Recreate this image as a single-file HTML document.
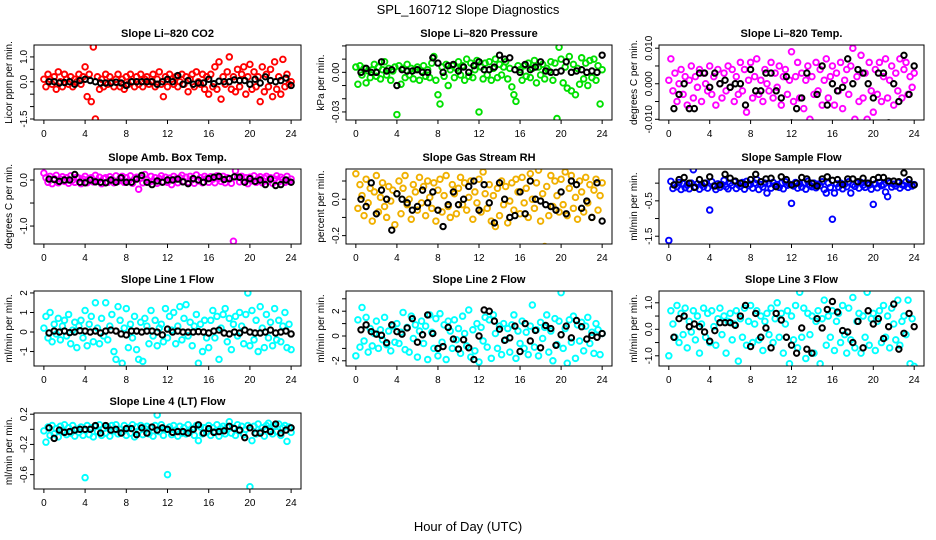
<!DOCTYPE html>
<html><head><meta charset="utf-8"><style>
html,body{margin:0;padding:0;background:#fff}
svg{display:block;font-family:"Liberation Sans",sans-serif}
</style></head><body>
<svg id="chart" width="936" height="540" viewBox="0 0 936 540">
<text x="468" y="14" text-anchor="middle" font-size="13">SPL_160712  Slope Diagnostics</text>
<text x="468" y="531" text-anchor="middle" font-size="13">Hour of Day (UTC)</text>
</svg>
<script>
const xTicks=[0,4,8,12,16,20,24];
const blackHours=[];for(let k=1;k<=48;k++)blackHours.push(k*0.5);
const colHours=[];for(let i=0;i<=120;i++)colHours.push(i*0.2);

const co2Vals=[.1,-.2,.3,.1,-.1,.2,-.3,.4,.0,-.2,.3,.1,-.1,.2,-.2,.1,.0,.3,-.1,.2,
.6,-.6,.3,-.8,1.4,-1.5,.2,-.3,.1,-.2,.3,-.1,.2,.0,-.2,.1,.3,-.2,.1,-.3,
.2,-.1,.3,.0,-.2,.2,-.1,.3,-.2,.1,.2,-.1,.0,.3,-.2,.1,.4,-.1,-.6,.2,
-.2,.3,.1,-.1,.2,-.2,.0,.3,-.1,.2,-.4,.1,.3,-.2,.4,.0,-.1,.3,-.3,.2,
-.5,.3,-.2,.6,-.3,.8,-.7,.2,-.1,.4,1.0,-.3,.2,-.4,.5,-.2,.3,.6,-.5,.2,
.7,-.3,.4,-.2,.2,-.8,.6,-.4,.3,-.2,.5,-.6,.8,-.3,.2,-.5,.9,-.2,.3,-.1,.0];
const co2Black=[.0,.0,-.05,-.03,.0,-.1,.05,.1,.05,.0,-.05,-.05,-.05,-.02,-.05,-.15,.0,.0,.0,.0,.0,-.1,.0,.1,.0,.25,-.1,.05,-.1,-.05,-.05,.1,-.08,.02,.0,.0,.08,.05,.05,-.1,.1,-.05,.2,.05,.0,.05,.15,-.15];

const presVals=[.004,-.009,.005,-.002,.003,-.008,.001,-.004,.002,.006,-.003,.004,-.005,.002,.008,-.002,.003,-.006,.001,.004,
-.032,.005,-.009,.003,-.004,.006,-.002,.003,-.005,.002,.004,-.006,.001,.005,-.003,.002,-.004,.007,.012,-.006,
-.017,-.024,.004,-.003,.006,-.010,.002,.005,-.004,.003,.008,-.002,.005,-.006,.010,-.003,.007,-.004,.002,.009,
-.030,.004,-.005,.007,-.002,.008,-.006,.003,.010,-.004,.006,-.002,.004,.008,-.005,.003,-.011,-.017,-.022,.005,
.002,-.006,.005,-.003,.007,-.004,.003,.009,-.008,.004,-.002,.006,-.005,.003,.001,.008,-.006,.007,-.035,.019,
.010,-.008,.004,-.012,.012,-.014,.006,-.017,.003,-.009,.011,-.005,.007,-.010,.009,-.004,.010,-.006,.005,-.024,.002];
const presBlack=[.0,.003,.0,.0,.008,.001,.002,-.010,.002,.001,.001,.002,.0,.0,.011,.007,.0,.005,.006,.001,.004,.0,.005,.008,.002,.002,.004,.013,.010,.011,.002,.0,.006,.002,.004,.008,.001,.0,.0,.001,.008,.0,.001,.002,.0,.001,.0,.013];

const tempVals=[.001,.007,-.002,.003,-.005,.000,.004,-.003,.002,-.006,.001,.005,-.004,.002,-.001,.004,-.005,.003,.000,-.002,
.005,-.003,.002,-.006,.004,.000,-.004,.003,-.002,.005,-.001,.004,-.005,.002,-.003,.006,-.002,.004,-.008,.001,
.006,-.004,.002,.007,-.003,.001,-.005,.004,.000,-.002,.006,-.004,.003,-.001,.005,-.006,.002,.004,-.003,.001,
.009,-.005,.002,.006,-.004,.003,-.007,.001,.005,-.010,.002,-.003,.006,-.002,.004,-.006,.001,.007,-.004,.002,
.005,-.006,.003,-.002,.006,-.007,.001,.004,-.003,.005,.010,-.010,.002,-.005,.008,-.004,.003,-.010,.006,-.002,
-.008,.004,-.003,.006,-.005,.002,.007,-.004,.001,.005,-.006,.003,-.002,.007,-.004,.004,.006,-.003,.002,-.001,.003];
const tempBlack=[-.007,-.003,.000,-.007,-.007,.003,.003,-.001,.003,.000,.001,-.001,.000,.000,-.006,.004,-.002,-.002,.003,.003,-.002,-.004,.002,-.011,-.007,-.004,.003,-.013,-.003,.005,-.006,.000,-.002,-.001,.007,.000,.004,.003,.000,-.004,.003,.003,-.011,.000,-.005,.008,-.003,.005];

const ambVals=[.15,.05,-.05,.08,-.08,.03,.10,-.06,.02,.07,-.03,.05,-.07,.09,.00,-.05,.06,.04,-.08,.02,
.08,-.06,.03,.05,-.04,.10,-.02,.06,-.08,.03,.05,-.05,.07,.01,-.06,.09,-.03,.04,.08,-.05,
.05,-.03,.09,-.07,.02,.06,-.20,.04,-.06,.12,.01,-.05,.08,-.02,.05,-.07,.03,.09,-.04,.06,
-.05,.04,-.10,.08,.02,-.06,.05,.10,-.03,.06,-.05,.08,.01,-.07,.11,-.02,.05,-.06,.08,.03,
-.05,.07,.02,-.06,.09,.04,-.03,.08,-.06,.05,.02,-.07,-1.33,.20,.06,-.04,.08,-.03,.05,-.08,
.06,-.02,.09,-.05,.03,.07,-.06,.04,.08,-.03,.05,-.07,.02,.09,-.04,.06,.01,-.05,.08,-.03,.02];
const ambBlack=[.02,.01,-.03,.0,.0,.12,-.05,-.06,.0,-.04,-.05,-.06,.0,-.05,.05,-.05,-.05,.02,.1,-.05,-.1,-.02,-.05,.0,.0,.02,-.04,-.08,.03,.0,-.05,.03,.06,.08,.01,.03,.07,.06,-.05,.03,-.03,.0,-.1,.02,-.12,-.1,.0,-.05];

const rhVals=[.14,-.05,.08,.02,-.09,.11,-.02,.06,-.12,.04,.13,-.07,.01,.09,-.04,-.10,.07,-.01,.05,-.14,
.03,.10,-.08,.06,.13,-.03,.00,-.11,.08,.04,-.06,.12,-.02,.07,-.09,.10,.01,-.05,.09,-.12,
.05,.11,-.07,.02,.13,-.04,-.10,.08,.03,-.08,.06,.12,-.03,.09,-.06,.01,.10,-.11,.04,-.02,
.11,-.07,.15,.03,-.05,.08,-.12,.02,-.15,.06,-.09,.10,-.03,.07,-.13,-.01,.09,-.06,.11,.04,
-.08,.12,-.02,.06,-.10,.14,.00,-.05,.09,.16,-.12,.03,-.26,.07,-.09,.13,-.04,.10,.02,-.07,
.11,-.03,.15,-.09,.06,.13,-.05,.01,-.11,.10,.04,-.07,.12,-.02,.08,-.10,.05,.11,-.06,.02,.09];
const rhBlack=[.0,-.04,.09,-.08,.05,.0,-.17,.03,.0,-.02,-.06,-.04,.05,-.02,.04,-.06,-.15,-.03,.04,-.03,.0,.07,.1,-.06,.08,-.02,-.13,.09,.0,-.1,-.09,.04,-.08,.1,.0,-.01,-.03,-.04,-.06,.04,-.08,.1,.08,-.05,-.01,-.1,.09,-.12];

const sampVals=[-1.62,.05,-.15,-.04,-.10,.02,-.18,-.02,-.13,-.05,-.16,.00,.38,-.11,-.02,-.17,-.04,-.10,.00,-.14,
-.76,.04,-.08,-.18,-.02,-.12,-.04,.08,-.10,-.16,.00,-.06,.04,-.15,-.04,-.09,.02,-.17,.05,-.07,
-.03,-.14,.00,.10,-.18,-.04,-.11,.00,-.28,-.02,-.14,.02,-.07,-.04,-.12,.00,-.16,.04,-.06,-.03,
-.57,-.08,.02,-.14,-.02,-.11,.00,-.17,.05,-.06,-.10,.00,-.13,-.03,-.07,.04,-.18,-.28,.00,-.12,
-1.02,-.28,-.02,-.11,.00,-.16,-.03,-.10,.04,-.28,-.04,-.09,.00,-.14,.02,-.06,-.12,.00,-.05,-.17,
-.60,-.02,-.13,.02,-.07,-.04,-.25,-.38,.00,-.11,-.03,-.08,.02,-.14,-.04,-.07,.04,-.12,-.02,-.08,-.04];
const sampBlack=[-.05,.10,.16,.0,-.12,.10,.0,.18,-.08,-.05,.25,.14,.06,.0,-.04,.10,.25,.04,.12,.14,-.10,.18,.10,-.05,.0,.16,.12,.0,-.08,.12,.18,.08,.10,-.04,.12,.12,.04,.14,.0,.10,.16,.16,.06,.06,.04,.29,.10,-.05];

const l1Vals=[.2,.8,-.3,1.0,-.5,.4,-.1,.7,-.4,.3,.6,-.2,.9,-.6,.1,.5,-.8,.3,.6,-.3,
1.1,-.7,.4,.8,-.5,1.5,.2,-.6,.7,-.2,1.5,-.4,.3,.9,-1.0,-1.4,1.3,.6,-1.6,.2,
1.2,-.8,.4,-.3,.8,-.9,-1.4,.5,-1.5,.7,.3,-.6,1.1,-.2,.6,-.7,.2,.4,-.5,1.2,
-.3,.8,.1,1.0,-.6,.3,1.3,-.4,.7,1.4,-.2,.5,-.7,.3,.9,-1.6,.4,-1.0,.6,-.3,
-.8,.6,1.1,-.3,.8,-1.4,.2,.9,1.2,-.5,.7,-.9,.4,.8,-.2,1.0,.3,-.6,.9,2.0,
-.7,1.1,-.4,.6,-1.0,1.3,.2,-.8,.9,-.3,.5,-.7,1.2,-.4,.6,-.5,.3,1.0,-.8,.4,-.9];
const l1Black=[-.05,.05,.0,.05,-.03,.0,.07,.05,.0,.05,-.05,.05,.1,.05,-.1,-.15,.05,.05,.0,.05,.05,.0,-.15,.15,.0,.05,.0,.0,.0,.02,.0,-.05,.05,.1,-.05,-.1,.0,-.05,.1,.0,-.05,-.05,.0,.1,-.05,.0,.05,-.1];

const l2Vals=[-1.6,1.3,-.9,2.3,-.4,1.5,-1.3,.6,-.8,.2,1.2,-1.0,.5,-.3,1.5,-.7,.4,-1.2,.8,-.5,
1.0,-.6,.3,1.9,-1.1,.7,-1.3,1.6,-.2,.9,-1.7,.4,1.2,-.6,.8,-1.9,1.7,.3,-1.0,1.4,
-1.6,1.8,-.5,.9,-1.9,1.2,.4,-1.0,1.3,-.3,.6,-1.4,1.6,.2,-.8,2.1,-1.7,.5,-1.2,1.0,
-2.1,.7,-.4,1.5,-.9,1.3,-1.8,1.7,.2,-1.0,.8,-1.5,1.0,-.3,.6,-1.3,.9,1.7,-1.8,.4,
-.6,1.2,-1.0,.3,-1.5,.8,2.5,-.9,.5,-1.6,1.1,-.2,.7,1.7,-1.3,.4,-2.0,1.4,-.7,1.2,
3.5,-1.0,.6,-2.2,1.3,-.5,1.6,-1.8,.9,-.4,1.1,-1.2,.8,1.5,-.6,.3,-1.4,1.0,.5,-1.5,.2];
const l2Black=[.5,.9,.35,.15,.05,-.55,.9,.35,.15,.65,1.4,-.5,.1,1.7,.2,-1.0,-.85,.7,-.25,-1.05,-.3,-.95,-1.9,.0,2.1,2.0,1.2,.55,-.35,-.15,.8,-1.25,1.0,-.4,.45,-.95,.85,.6,-.75,.1,.8,-.15,1.25,.75,-.25,.05,-.1,.2];

const l3Vals=[-1.0,.7,.2,-.3,.9,-.5,.6,-.2,.8,-.7,.3,-.1,.7,-.4,.5,-.9,.2,.8,-.3,.6,
-.5,.7,.1,-.6,.4,.8,-.2,.5,-.9,.3,.6,-.4,.2,.7,-1.2,.4,-.3,.8,-.6,.3,
.9,-.5,.2,.7,-.4,.5,-.8,.3,.6,-.2,.8,-.5,.4,1.0,-.3,.6,-.9,.2,.7,-1.3,
.5,-.4,.9,-.7,1.4,-.3,.8,-1.1,.6,-.2,.5,-.9,.3,.7,-1.3,.4,1.1,-.6,.5,-.3,
.7,-.8,.3,.6,-.5,.9,-.2,-.9,.8,-.4,1.2,-.7,.3,.6,-.9,.5,-.3,1.4,-.6,.4,
.6,-.8,.3,.7,-.5,.9,-.3,.5,-.7,.8,.2,-.4,1.1,-.6,.3,.5,-.2,1.1,-1.3,.4,-1.4];
const l3Black=[-.3,.4,.5,.1,.2,.1,-.1,-.45,-.05,.25,.25,.25,.15,.5,.9,-.65,.6,-.3,.05,-.7,.6,.35,-.3,-.6,-.9,.05,-.75,-.9,.4,.05,.75,1.05,.65,-.05,-.1,-.5,.3,-.7,.7,.2,.4,-.35,.1,.95,-.75,-.15,.6,.1];

const l4Vals=[-.02,-.17,.03,-.08,.05,-.06,.01,-.10,.04,-.03,.06,-.07,.02,-.05,.05,-.09,.00,-.04,.03,-.08,
-.64,.05,-.07,.02,-.10,.04,-.03,.06,-.08,.01,-.05,.03,-.09,.05,-.02,.06,-.06,.00,-.04,.05,
-.08,.02,-.05,.06,-.10,.03,-.02,.05,-.07,.01,.04,-.06,.02,-.09,.05,.19,-.03,.06,-.08,.00,
-.60,.03,-.07,.05,-.01,-.09,.04,-.05,.02,-.06,.06,-.03,.01,-.08,.05,-.15,.03,-.06,.02,-.04,
.05,-.08,.02,-.03,.06,-.09,.01,.04,-.06,.03,.10,-.05,.02,-.08,.06,-.02,.04,-.07,.00,.05,
-.76,-.15,.04,-.06,.07,-.03,.02,-.09,.05,.08,-.01,-.06,.04,-.03,.07,-.08,.02,.05,-.16,.03,-.04];
const l4Black=[.02,-.12,-.01,-.04,-.03,-.01,.0,.0,.0,.05,-.05,.05,-.01,.0,-.05,.01,.01,-.07,.02,-.05,.03,-.01,.02,.0,-.04,-.03,-.03,-.05,.0,.06,-.05,.01,-.04,-.03,-.02,.04,.01,-.01,-.11,.02,-.05,-.05,.0,-.03,.07,-.05,-.01,.02];

const panels=[
 {name:'co2',title:'Slope Li\u2013820 CO2',ylab:'Licor ppm per min.',col:0,row:0,ylim:[-1.54,1.48],ticks:[1,.5,0,-.5,-1,-1.5],labels:[[1,'1.0'],[0,'0.0'],[-1.5,'-1.5']],color:'#ff0000',vals:co2Vals,black:co2Black},
 {name:'pressure',title:'Slope Li\u2013820 Pressure',ylab:'kPa per min.',col:1,row:0,ylim:[-0.0361,0.0207],ticks:[.02,.01,0,-.01,-.02,-.03],labels:[[0,'0.00'],[-.03,'-0.03']],color:'#00e000',vals:presVals,black:presBlack},
 {name:'temp',title:'Slope Li\u2013820 Temp.',ylab:'degrees C per min.',col:2,row:0,ylim:[-0.0102,0.0109],ticks:[.01,.005,0,-.005,-.01],labels:[[.01,'0.010'],[0,'0.000'],[-.01,'-0.010']],color:'#ff00ff',vals:tempVals,black:tempBlack},
 {name:'amb-temp',title:'Slope Amb. Box Temp.',ylab:'degrees C per min.',col:0,row:1,ylim:[-1.39,0.239],ticks:[0,-.5,-1],labels:[[0,'0.0'],[-1,'-1.0']],color:'#ff00ff',vals:ambVals,black:ambBlack},
 {name:'rh',title:'Slope Gas Stream RH',ylab:'percent per min.',col:1,row:1,ylim:[-0.246,0.166],ticks:[.1,0,-.1,-.2],labels:[[0,'0.0'],[-.2,'-0.2']],color:'#f0b000',vals:rhVals,black:rhBlack},
 {name:'sample-flow',title:'Slope Sample Flow',ylab:'ml/min per min.',col:2,row:1,ylim:[-1.72,0.40],ticks:[0,-.5,-1,-1.5],labels:[[-.5,'-0.5'],[-1.5,'-1.5']],color:'#0000ff',vals:sampVals,black:sampBlack},
 {name:'line1',title:'Slope Line 1 Flow',ylab:'ml/min per min.',col:0,row:2,ylim:[-1.74,2.10],ticks:[2,1,0,-1],labels:[[2,'2'],[1,'1'],[0,'0'],[-1,'-1']],color:'#00ffff',vals:l1Vals,black:l1Black},
 {name:'line2',title:'Slope Line 2 Flow',ylab:'ml/min per min.',col:1,row:2,ylim:[-2.42,3.63],ticks:[3,2,1,0,-1,-2],labels:[[2,'2'],[0,'0'],[-2,'-2']],color:'#00ffff',vals:l2Vals,black:l2Black},
 {name:'line3',title:'Slope Line 3 Flow',ylab:'ml/min per min.',col:2,row:2,ylim:[-1.385,1.445],ticks:[1,.5,0,-.5,-1],labels:[[1,'1.0'],[0,'0.0'],[-1,'-1.0']],color:'#00ffff',vals:l3Vals,black:l3Black},
 {name:'line4',title:'Slope Line 4 (LT) Flow',ylab:'ml/min per min.',col:0,row:3,ylim:[-0.79,0.216],ticks:[.2,0,-.2,-.4,-.6],labels:[[.2,'0.2'],[-.2,'-0.2'],[-.6,'-0.6']],color:'#00ffff',vals:l4Vals,black:l4Black}
];
const colX=[[34,301],[346,612],[659,924]];
const rowY=[[45,120],[169,244],[291,366],[413,489]];
const NS='http://www.w3.org/2000/svg';
const svg=document.getElementById('chart');
function mk(tag,attrs,parent){const e=document.createElementNS(NS,tag);for(const k in attrs)e.setAttribute(k,attrs[k]);parent.appendChild(e);return e;}

panels.forEach(p=>{
  const [L,R]=colX[p.col],[T,B]=rowY[p.row];
  const xs=h=>L+(h+0.96)/25.92*(R-L);
  const ys=v=>B-(v-p.ylim[0])/(p.ylim[1]-p.ylim[0])*(B-T);
  const g=mk('g',{},svg);
  
  
  const clip=mk('clipPath',{id:'c-'+p.name},g);
  mk('rect',{x:L,y:T,width:R-L,height:B-T},clip);
  const pts=mk('g',{'clip-path':'url(#c-'+p.name+')'},g);
  
  
  p.vals.forEach((v,i)=>{
    const c=mk('circle',{cx:xs(colHours[i]),cy:ys(v),r:2.8,fill:'none',stroke:p.color,'stroke-width':1.9},pts);
    
    
  });
  p.black.forEach((v,i)=>{
    const c=mk('circle',{cx:xs(blackHours[i]),cy:ys(v),r:2.7,fill:'none',stroke:'#000','stroke-width':2},pts);
    
    
  });
  const box=mk('rect',{x:L,y:T,width:R-L,height:B-T,fill:'none',stroke:'#000','stroke-width':1},g);
  
  
  const t=mk('text',{x:(L+R)/2,y:T-8,'text-anchor':'middle','font-size':11,'font-weight':'bold'},g);
  t.textContent=p.title;
  
  
  xTicks.forEach(h=>{
    mk('line',{x1:xs(h),x2:xs(h),y1:B,y2:B+4,stroke:'#000'},g);
    const tx=mk('text',{x:xs(h),y:B+17,'text-anchor':'middle','font-size':10},g);
    tx.textContent=h;
    
    
  });
  p.ticks.forEach(v=>{mk('line',{x1:L-4,x2:L,y1:ys(v),y2:ys(v),stroke:'#000'},g);});
  p.labels.forEach(([v,s])=>{
    const tx=mk('text',{x:L-7,y:ys(v),'text-anchor':'middle','font-size':10,transform:'rotate(-90 '+(L-7)+' '+ys(v)+')'},g);
    tx.textContent=s;
    
    
  });
  const yl=mk('text',{x:L-22,y:(T+B)/2,'text-anchor':'middle','font-size':10,transform:'rotate(-90 '+(L-22)+' '+((T+B)/2)+')'},g);
  yl.textContent=p.ylab;
  
  
});
</script>
</body></html>
